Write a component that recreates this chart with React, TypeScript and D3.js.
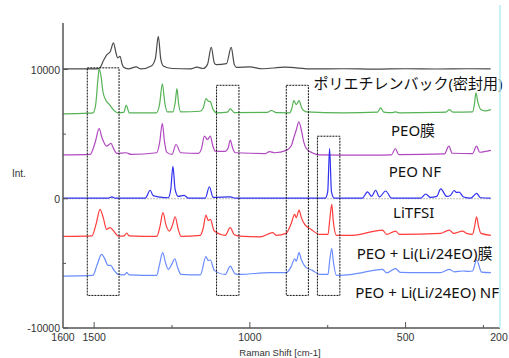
import React from 'react';
import * as d3 from 'd3';

// spectra: [wavenumber cm-1, intensity]
const polyethylene: [number, number][] = [
  [1600, 10050], [1490, 10050], [1481, 10150], [1470, 10700], [1459, 11150], [1448, 11400], [1438, 12060],
  [1430, 11300], [1425, 10900], [1417, 11020], [1410, 10400], [1406, 10200], [1390, 10050], [1365, 10200],
  [1350, 10050], [1315, 10300], [1303, 10900], [1294, 12570], [1286, 10800], [1277, 10250], [1250, 10080],
  [1190, 10050], [1170, 10180], [1150, 10080], [1136, 10400], [1124, 11720], [1114, 10500], [1108, 10380],
  [1075, 10450], [1060, 11720], [1050, 10400], [1043, 10170], [1001, 10200], [960, 10060], [888, 10180],
  [800, 10050], [700, 10060], [600, 10030], [500, 10060], [400, 10040], [300, 10060], [227, 10050],
];
const peoFilm: [number, number][] = [
  [1600, 6570], [1520, 6620], [1503, 6650], [1495, 7300], [1488, 9200], [1484, 10050], [1478, 9500], [1472, 8320],
  [1462, 7600], [1451, 7290], [1439, 6900], [1422, 6650], [1405, 6680], [1397, 7230], [1387, 6650],
  [1300, 6650], [1290, 7300], [1281, 8890], [1273, 7400], [1265, 6720], [1247, 6720], [1240, 7400],
  [1234, 8520], [1229, 7400], [1222, 6720], [1160, 6770], [1150, 7000], [1141, 7750], [1133, 7550],
  [1127, 7520], [1118, 6900], [1106, 6650], [1072, 6700], [1063, 6960], [1050, 6670], [945, 6680],
  [931, 6830], [915, 6660], [872, 6650], [865, 7000], [859, 7600], [851, 7290], [842, 7600], [833, 7000],
  [819, 6720], [700, 6650], [590, 6700], [580, 7030], [570, 6700], [545, 6660], [533, 6720], [520, 6650],
  [400, 6680], [370, 6700], [360, 6900], [348, 6700], [285, 6720], [279, 7300], [274, 8190], [268, 7500],
  [258, 6900], [245, 6800], [226, 6900],
];
const peoNf: [number, number][] = [
  [1600, 3390], [1513, 3430], [1497, 4330], [1484, 5420], [1475, 4740], [1460, 4070], [1446, 4280],
  [1438, 3900], [1427, 3510], [1397, 3560], [1381, 3430], [1299, 3560], [1290, 4300], [1281, 5830],
  [1274, 4400], [1267, 3610], [1250, 3430], [1237, 4200], [1222, 3560], [1165, 3510], [1155, 3900],
  [1146, 4840], [1136, 4590], [1127, 4840], [1119, 4100], [1111, 3680], [1079, 3660], [1070, 3900],
  [1063, 4530], [1055, 3900], [1047, 3560], [950, 3500], [937, 3650], [920, 3560], [883, 3740],
  [867, 4100], [859, 4720], [850, 5400], [843, 5960], [835, 5360], [827, 4400], [819, 3890], [800, 3560],
  [776, 3390], [620, 3380], [545, 3400], [533, 3890], [522, 3420], [375, 3480], [361, 4070], [350, 3520],
  [285, 3500], [272, 4070], [262, 3600], [226, 3740],
];
const litfsi: [number, number][] = [
  [1600, 50], [1455, 50], [1443, 150], [1433, 50], [1336, 50], [1320, 660], [1311, 250], [1301, 180],
  [1288, 120], [1262, 80], [1254, 720], [1247, 2500], [1240, 720], [1230, 180], [1211, 255], [1198, 50],
  [1143, 50], [1130, 930], [1118, 100], [1063, 150], [1047, 50], [758, 50], [750, 560], [744, 3890],
  [738, 560], [729, 50], [639, 50], [622, 530], [609, 180], [596, 660], [584, 140], [564, 600], [545, 50],
  [452, 50], [435, 370], [420, 100], [400, 180], [387, 770], [368, 180], [356, 255], [344, 640], [337, 490],
  [328, 510], [314, 140], [291, 50], [272, 410], [259, 80], [227, 50],
];
const peoLiFilm: [number, number][] = [
  [1600, -2910], [1507, -2870], [1494, -1980], [1481, -820], [1471, -1440], [1460, -2370], [1449, -2240],
  [1439, -2450], [1422, -2890], [1404, -2870], [1395, -2650], [1388, -2870], [1299, -2910], [1289, -2200],
  [1279, -1080], [1269, -2060], [1258, -2500], [1248, -2000], [1240, -1390], [1230, -2370], [1221, -2910],
  [1159, -2830], [1150, -2300], [1141, -1260], [1134, -1680], [1127, -1600], [1114, -2500], [1079, -2830],
  [1063, -2240], [1050, -2790], [1033, -2890], [967, -2950], [926, -2620], [916, -2830], [884, -2680],
  [867, -1900], [856, -1210], [851, -1470], [842, -880], [835, -1440], [824, -1980], [803, -2370],
  [776, -2760], [749, -2760], [744, -1750], [737, -440], [732, -1750], [722, -2830], [671, -2830],
  [574, -2420], [561, -2760], [532, -2500], [520, -2760], [388, -2680], [360, -2420], [346, -2680],
  [317, -2500], [304, -2680], [285, -2760], [278, -2100], [272, -1390], [266, -2100], [258, -2680],
  [226, -2830],
];
const peoLiNf: [number, number][] = [
  [1600, -5980], [1504, -5930], [1491, -5150], [1476, -4300], [1465, -4690], [1456, -5150], [1447, -5150],
  [1436, -5540], [1422, -5850], [1404, -5890], [1395, -5720], [1388, -5890], [1299, -5930], [1290, -5080],
  [1280, -4170], [1271, -4920], [1262, -5460], [1251, -5080], [1241, -4640], [1232, -5310], [1221, -5850],
  [1159, -5890], [1141, -4480], [1134, -4770], [1127, -4740], [1114, -5540], [1079, -5850], [1063, -5210],
  [1047, -5810], [1031, -5850], [937, -5720], [884, -5720], [867, -5230], [856, -4640], [851, -4820],
  [842, -4170], [835, -4690], [819, -5330], [799, -5540], [776, -5850], [749, -5850], [744, -4840],
  [737, -3860], [732, -4840], [722, -5930], [671, -5850], [574, -5460], [561, -5730], [532, -5410],
  [517, -5690], [456, -5720], [388, -5720], [360, -5460], [343, -5660], [317, -5590], [298, -5620],
  [285, -5590], [272, -4740], [256, -5670], [226, -5720],
];

const seriesNames = ['ポリエチレンバック(密封用)', 'PEO膜', 'PEO NF', 'LiTFSI', 'PEO + Li(Li/24EO)膜', 'PEO + Li(Li/24EO) NF'];
const seriesData = [polyethylene, peoFilm, peoNf, litfsi, peoLiFilm, peoLiNf];
const seriesColors = ['#4a4a4a', '#55b255', '#b048c0', '#3030f0', '#ff3c3c', '#6a8cff'];
// label centre [wavenumber, intensity] for each series
const labelPos: [number, number][] = [[492, 8960], [476, 5320], [470, 2150], [474, -1020], [439, -4160], [431, -7180]];

// dotted highlight boxes: [from, to, top, bottom]
const boxes: [number, number, number, number][] = [
  [1522, 1420, 10130, -7480],
  [1107, 1035, 8780, -7480],
  [883, 812, 8780, -7480],
  [783, 711, 4840, -7480],
];

const xTicksMajor = [1600, 1500, 1000, 500, 200];
const xTicksMinor = [1250, 750, 250];
const yTicksMajor = [10000, 0, -10000];
const yTicksMinor = [5000, -5000];

export default function App() {
  const W = 509, H = 358;
  const x = d3.scaleLinear().domain([1600, 200]).range([63, 499]);
  const y = d3.scaleLinear().domain([-10000, 13600]).range([328, 23]);
  const line = d3.line<[number, number]>().x(d => x(d[0])).y(d => y(d[1])).curve(d3.curveMonotoneX);
  const tickFont = { fontFamily: 'Liberation Sans, Arial, sans-serif', fontSize: 10.5, fill: '#333' };
  const labelFont = { fontFamily: '"Noto Sans", "Noto Sans CJK JP", sans-serif', fontSize: 15, fill: '#111' };

  return (
    <svg width={W} height={H} style={{ position: 'absolute', left: 0, top: 0, background: '#fff' }}>
      {/* zero line */}
      <line x1={x(1600)} x2={x(225)} y1={y(0)} y2={y(0)} stroke="#bbb" strokeDasharray="2,1" />

      {seriesData.map((d, i) => (
        <path key={i} d={line(d) || ''} fill="none" stroke={seriesColors[i]} strokeWidth={1.2} />
      ))}

      {boxes.map((b, i) => (
        <rect key={i} x={x(b[0])} y={y(b[2])} width={x(b[1]) - x(b[0])} height={y(b[3]) - y(b[2])}
          fill="none" stroke="#111" strokeWidth={1} strokeDasharray="2,1" />
      ))}

      {seriesNames.map((n, i) => (
        <text key={i} x={x(labelPos[i][0])} y={y(labelPos[i][1])} textAnchor="middle" dominantBaseline="central"
          style={labelFont}>{n}</text>
      ))}

      {/* axes */}
      <line x1={63} x2={63} y1={23} y2={328} stroke="#555" strokeWidth={1.5} />
      <line x1={63} x2={500} y1={328} y2={328} stroke="#555" strokeWidth={1.5} />
      <line x1={500} x2={500} y1={5} y2={328} stroke="#b6eef5" strokeWidth={1.5} />

      {yTicksMajor.map(t => (
        <g key={t}>
          <line x1={63} x2={68} y1={y(t)} y2={y(t)} stroke="#555" />
          <text x={60} y={y(t)} textAnchor="end" dominantBaseline="central" style={tickFont}>{t}</text>
        </g>
      ))}
      {yTicksMinor.map(t => (
        <line key={t} x1={63} x2={66} y1={y(t)} y2={y(t)} stroke="#555" />
      ))}
      {xTicksMajor.map(t => (
        <g key={t}>
          {t !== 1600 && t !== 200 && <line x1={x(t)} x2={x(t)} y1={328} y2={322} stroke="#555" />}
          <text x={x(t)} y={341} textAnchor="middle" style={tickFont}>{t}</text>
        </g>
      ))}
      {xTicksMinor.map(t => (
        <line key={t} x1={x(t)} x2={x(t)} y1={328} y2={325} stroke="#555" />
      ))}

      <text x={280} y={356} textAnchor="middle" style={{ ...tickFont, fontSize: 9.5 }}>Raman Shift [cm-1]</text>
      <text x={12} y={177} style={{ ...tickFont, fontSize: 10 }}>Int.</text>
    </svg>
  );
}
